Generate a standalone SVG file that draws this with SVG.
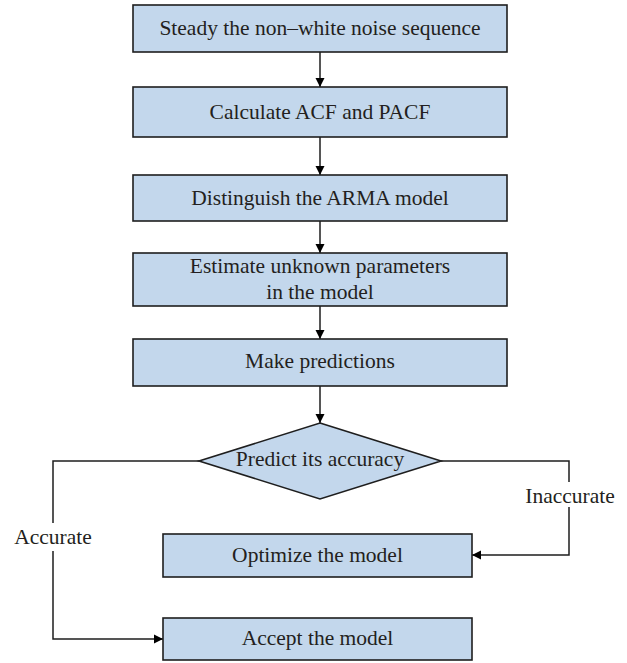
<svg xmlns="http://www.w3.org/2000/svg" width="627" height="663" viewBox="0 0 627 663">
<defs>
<style>
.box{fill:#c3d7ec;stroke:#1e1e1e;stroke-width:1.6}
.t{font-family:"Liberation Serif",serif;font-size:21.5px;fill:#231f20;text-anchor:middle;dominant-baseline:central}
.c{fill:none;stroke:#1e1e1e;stroke-width:1.5}
</style>
<marker id="ah" viewBox="0 0 10 10" refX="10" refY="5" markerWidth="9" markerHeight="10" markerUnits="userSpaceOnUse" orient="auto">
<path d="M0,0 L10,5 L0,10 z" fill="#000"/>
</marker>
</defs>
<rect width="627" height="663" fill="#fff"/>
<g id="connectors">
<line class="c" x1="320" y1="52" x2="320" y2="87" marker-end="url(#ah)"/>
<line class="c" x1="320" y1="137" x2="320" y2="175" marker-end="url(#ah)"/>
<line class="c" x1="320" y1="221" x2="320" y2="253" marker-end="url(#ah)"/>
<line class="c" x1="320" y1="306" x2="320" y2="339" marker-end="url(#ah)"/>
<line class="c" x1="320" y1="386" x2="320" y2="423" marker-end="url(#ah)"/>
<polyline class="c" points="199,461 53,461 53,523"/>
<polyline class="c" points="53,551 53,639 163,639" marker-end="url(#ah)"/>
<polyline class="c" points="441,461 569,461 569,482"/>
<polyline class="c" points="569,507 569,555 472,555" marker-end="url(#ah)"/>
<text class="t" x="53" y="537">Accurate</text>
<text class="t" x="570" y="496">Inaccurate</text>
</g>
<g id="n1"><rect class="box" x="133" y="5" width="374" height="47"/><text class="t" x="320" y="28">Steady the non–white noise sequence</text></g>
<g id="n2"><rect class="box" x="133" y="87" width="374" height="50"/><text class="t" x="320" y="112">Calculate ACF and PACF</text></g>
<g id="n3"><rect class="box" x="133" y="175" width="374" height="46"/><text class="t" x="320" y="198">Distinguish the ARMA model</text></g>
<g id="n4"><rect class="box" x="133" y="253" width="374" height="53"/><text class="t" x="320" y="266">Estimate unknown parameters</text><text class="t" x="320" y="292">in the model</text></g>
<g id="n5"><rect class="box" x="133" y="339" width="374" height="47"/><text class="t" x="320" y="361">Make predictions</text></g>
<g id="n6"><polygon class="box" points="320,423 441,461 320,499 199,461"/><text class="t" x="320" y="459">Predict its accuracy</text></g>
<g id="n7"><rect class="box" x="163" y="534" width="309" height="43"/><text class="t" x="317.5" y="555">Optimize the model</text></g>
<g id="n8"><rect class="box" x="163" y="618" width="309" height="42"/><text class="t" x="317.5" y="638">Accept the model</text></g>
</svg>
